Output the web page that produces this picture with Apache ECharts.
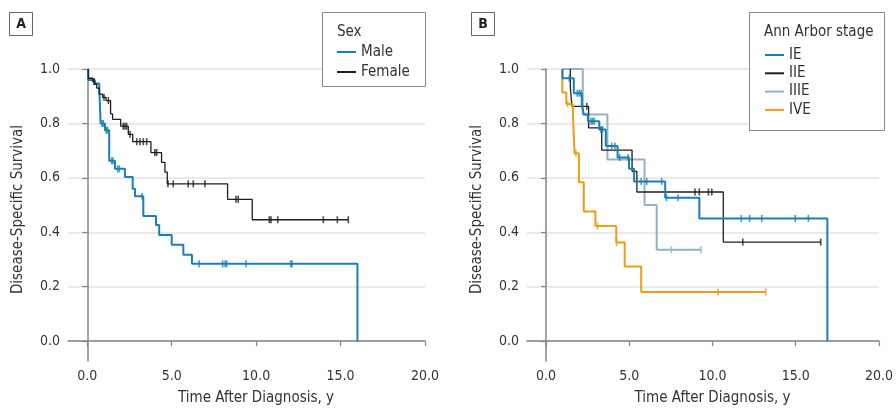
<!DOCTYPE html>
<html>
<head>
<meta charset="utf-8">
<script src="https://cdn.jsdelivr.net/npm/echarts@6/dist/echarts.min.js"></script>
<style>
  html, body { margin: 0; padding: 0; background: #fff; }
  #chart { width: 896px; height: 411px; }
</style>
</head>
<body>
<div id="chart"></div>
<script>
// panel A: sex
const maleT = [0.06, 0.06, 0.45, 0.71, 0.79, 1.05, 1.30, 1.64, 2.23, 2.69, 2.83, 3.32, 4.07, 4.26, 5.00, 5.69, 6.20, 16.0]
const maleS = [1.0, 0.96, 0.947, 0.936, 0.80, 0.775, 0.663, 0.633, 0.603, 0.56, 0.532, 0.46, 0.427, 0.39, 0.354, 0.317, 0.284, 0.0]
const maleCensor = [0.88, 0.95, 1.12, 1.2, 1.45, 1.52, 1.8, 1.9, 3.25, 6.62, 8.02, 8.16, 8.26, 9.4, 12.05, 12.12]

const femaleT = [0.06, 0.06, 0.32, 0.44, 0.56, 0.71, 0.91, 1.11, 1.38, 1.50, 1.98, 2.43, 2.69, 3.77, 4.40, 4.60, 4.74, 8.31, 9.77, 15.46]
const femaleS = [1.0, 0.966, 0.954, 0.944, 0.93, 0.908, 0.896, 0.884, 0.835, 0.815, 0.79, 0.76, 0.733, 0.693, 0.657, 0.621, 0.578, 0.521, 0.446, 0.446]
const femaleCensor = [0.4, 0.99, 1.25, 2.13, 2.23, 2.33, 2.53, 2.93, 3.12, 3.32, 3.52, 4.0, 4.11, 4.78, 5.09, 5.98, 6.28, 6.97, 8.81, 8.94, 10.78, 10.88, 11.28, 13.98, 14.81, 15.46]

// panel B: Ann Arbor stage
const ieT = [0.99, 0.99, 1.67, 2.15, 2.27, 2.52, 3.2, 3.59, 4.3, 4.99, 5.29, 7.16, 9.21, 16.9]
const ieS = [1.0, 0.966, 0.911, 0.869, 0.833, 0.808, 0.778, 0.717, 0.675, 0.633, 0.587, 0.527, 0.451, 0.0]
const ieCensor = [1.4, 1.88, 2.0, 2.1, 2.7, 2.8, 2.9, 3.3, 3.4, 3.95, 4.14, 4.42, 4.93, 5.72, 6.05, 6.95, 7.24, 7.93, 11.73, 12.23, 12.96, 14.97, 15.76]

const iieT = [1.46, 1.46, 1.56, 2.56, 3.35, 5.17, 5.46, 10.65, 16.5]
const iieS = [1.0, 0.933, 0.863, 0.784, 0.702, 0.624, 0.548, 0.364, 0.364]
const iieCensor = [2.45, 8.95, 9.21, 9.76, 9.96, 11.82, 16.5]

const iiieT = [0.99, 2.21, 3.69, 5.92, 6.65, 9.31]
const iiieS = [1.0, 0.833, 0.667, 0.5, 0.336, 0.336]
const iiieCensor = [7.53, 9.31]

const iveT = [0.98, 0.98, 1.22, 1.62, 1.72, 1.98, 2.27, 2.97, 4.22, 4.73, 5.72, 13.2]
const iveS = [1.0, 0.914, 0.871, 0.827, 0.69, 0.584, 0.476, 0.423, 0.362, 0.274, 0.181, 0.181]
const iveCensor = [1.3, 1.8, 3.1, 4.24, 10.33, 13.2]

const xTicks = [0, 5, 10, 15, 20]
const yTicks = [0, 0.2, 0.4, 0.6, 0.8, 1.0]

const BLUE = '#1a7fb5'
const BLACK = '#1e1e1e'
const GREY = '#93b3c4'
const ORANGE = '#f39a16'
const FONT = "'DejaVu Sans Condensed', 'Liberation Sans Narrow', 'Noto Sans', sans-serif"

function zip(ts, ss) {
  return ts.map((t, i) => [t, ss[i]])
}

// survival value of the step that holds time t
function survAt(ts, ss, t) {
  let s = ss[0]
  for (let i = 0; i < ts.length; i++) {
    if (ts[i] <= t) s = ss[i]
  }
  return s
}

function curve(name, ts, ss, color, width, idx) {
  return {
    name,
    type: 'line',
    step: 'end',
    xAxisIndex: idx,
    yAxisIndex: idx,
    data: zip(ts, ss),
    showSymbol: false,
    clip: false,
    itemStyle: { color },
    lineStyle: { color, width },
    z: 3
  }
}

function censors(ts, ss, marks, color, idx) {
  return {
    type: 'scatter',
    xAxisIndex: idx,
    yAxisIndex: idx,
    data: marks.map(t => [t, survAt(ts, ss, t)]),
    symbol: 'rect',
    symbolSize: [1.6, 7],
    itemStyle: { color },
    silent: true,
    z: 4
  }
}

function xAxis(idx) {
  return {
    type: 'value',
    gridIndex: idx,
    min: -1.14,
    max: 20,
    axisLine: { show: true, lineStyle: { color: '#858585', width: 1.5 } },
    axisTick: { show: true, length: 5, customValues: xTicks, lineStyle: { color: '#858585', width: 1.2 } },
    axisLabel: { customValues: xTicks, formatter: v => v.toFixed(1), color: '#333', fontSize: 14, margin: 8, fontFamily: FONT },
    splitLine: { show: false },
    name: 'Time After Diagnosis, y',
    nameLocation: 'middle',
    nameGap: 30,
    nameTextStyle: { color: '#333', fontSize: 15, fontFamily: FONT, padding: [0, 0, 0, 19] }
  }
}

function yAxis(idx) {
  return {
    type: 'value',
    gridIndex: idx,
    min: -0.073,
    max: 1.0,
    axisLine: { show: true, lineStyle: { color: '#858585', width: 1.5 } },
    axisTick: { show: true, length: 5, customValues: yTicks, lineStyle: { color: '#858585', width: 1.2 } },
    axisLabel: { customValues: yTicks, formatter: v => v.toFixed(1), color: '#333', fontSize: 14, margin: 8, fontFamily: FONT },
    splitLine: { show: true, lineStyle: { color: '#e3e3e3', width: 1.5 } },
    name: 'Disease-Specific Survival',
    nameLocation: 'middle',
    nameGap: 42,
    nameTextStyle: { color: '#333', fontSize: 15, fontFamily: FONT, padding: [0, 0, 0, 11] }
  }
}

function panelTag(letter, x) {
  return [
    { type: 'rect', z: 5, shape: { x: x + 0.5, y: 12.5, width: 23, height: 23 }, style: { fill: '#fff', stroke: '#666', lineWidth: 1 } },
    { type: 'text', z: 6, x: x + 12, y: 24, style: { text: letter, fontSize: 14, fontWeight: 'bold', fontFamily: FONT, fill: '#222', align: 'center', verticalAlign: 'middle' } }
  ]
}

function legendBox(x, w, h, title) {
  return [
    { type: 'rect', z: 5, shape: { x: x + 0.5, y: 12.5, width: w, height: h }, style: { fill: '#fff', stroke: '#888', lineWidth: 1 } },
    { type: 'text', z: 6, x: x + 15, y: 32, style: { text: title, fontSize: 15, fontFamily: FONT, fill: '#333', verticalAlign: 'middle' } }
  ]
}

const chart = echarts.init(document.getElementById('chart'))

const option = {
  animation: false,
  backgroundColor: '#fff',
  textStyle: { fontFamily: FONT },
  grid: [
    { left: 68, top: 69, width: 357, height: 295 },
    { left: 527, top: 69, width: 357, height: 295 }
  ],
  xAxis: [xAxis(0), xAxis(1)],
  yAxis: [yAxis(0), yAxis(1)],
  legend: [
    {
      data: ['Male', 'Female'],
      orient: 'vertical',
      left: 337,
      top: 44,
      padding: 0,
      itemGap: 4,
      icon: 'rect',
      itemWidth: 19,
      itemHeight: 2,
      z: 10,
      textStyle: { color: '#333', fontSize: 15, lineHeight: 16, fontFamily: FONT }
    },
    {
      data: ['IE', 'IIE', 'IIIE', 'IVE'],
      orient: 'vertical',
      left: 765,
      top: 47,
      padding: 0,
      itemGap: 2.3,
      icon: 'rect',
      itemWidth: 19,
      itemHeight: 2,
      z: 10,
      textStyle: { color: '#333', fontSize: 15, lineHeight: 16, fontFamily: FONT }
    }
  ],
  graphic: [
    ...panelTag('A', 9),
    ...panelTag('B', 471),
    ...legendBox(322, 103, 74, 'Sex'),
    ...legendBox(749, 135, 118, 'Ann Arbor stage')
  ],
  series: [
    curve('Male', maleT, maleS, BLUE, 2, 0),
    curve('Female', femaleT, femaleS, BLACK, 1.3, 0),
    censors(maleT, maleS, maleCensor, BLUE, 0),
    censors(femaleT, femaleS, femaleCensor, BLACK, 0),

    curve('IIIE', iiieT, iiieS, GREY, 2, 1),
    curve('IIE', iieT, iieS, BLACK, 1.3, 1),
    curve('IVE', iveT, iveS, ORANGE, 2, 1),
    curve('IE', ieT, ieS, BLUE, 2, 1),
    censors(iiieT, iiieS, iiieCensor, GREY, 1),
    censors(iieT, iieS, iieCensor, BLACK, 1),
    censors(iveT, iveS, iveCensor, ORANGE, 1),
    censors(ieT, ieS, ieCensor, BLUE, 1)
  ]
}

chart.setOption(option)
</script>
</body>
</html>
